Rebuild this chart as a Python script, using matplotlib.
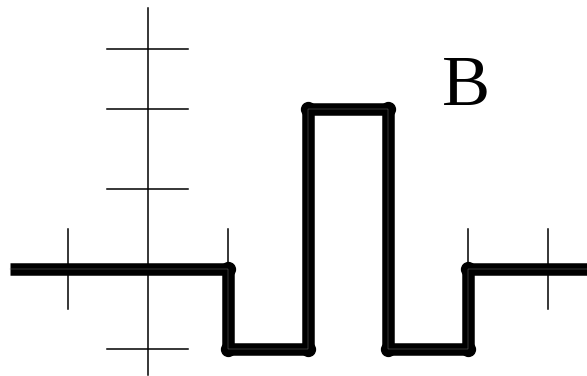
import matplotlib
matplotlib.use("Agg")
import matplotlib.pyplot as plt

# Step signal data
step_x = [-1.725, 1, 1, 2, 2, 3, 3, 4, 4, 5.6]
step_y = [0, 0, -1, -1, 2, 2, -1, -1, 0, 0]
corner_x = [1, 1, 2, 2, 3, 3, 4, 4]
corner_y = [0, -1, -1, 2, 2, -1, -1, 0]

# Axis tick positions
xtick_pos = [-1, 1, 4, 5]
ytick_pos = [-1, 1, 2, 2.75]
label = "B"

fig = plt.figure(figsize=(5.87, 3.76), dpi=100)
ax = fig.add_axes([0, 0, 1, 1])
ax.set_xlim(-1.85, 5.4875)
ax.set_ylim(-1.3375, 3.3625)
ax.axis('off')

# axes
ax.plot([0, 0], [-1.325, 3.2625], color='black', lw=1.1)
for xt in xtick_pos:
    ax.plot([xt, xt], [-0.5, 0.5], color='black', lw=1.1)
for yt in ytick_pos:
    ax.plot([-0.51, 0.5], [yt, yt], color='black', lw=1.1)

# thick step signal
ax.plot(step_x, step_y, color='black', lw=9, solid_joinstyle='round', solid_capstyle='butt')
ax.plot(corner_x, corner_y, 'o', color='black', ms=10)
# faint inner line
ax.plot(step_x, step_y, color='#6e6e6e', lw=0.35)

ax.text(3.98, 2.27, label, fontsize=52, family='Liberation Serif', ha='center', va='center')

fig.savefig('out.png', dpi=100)
